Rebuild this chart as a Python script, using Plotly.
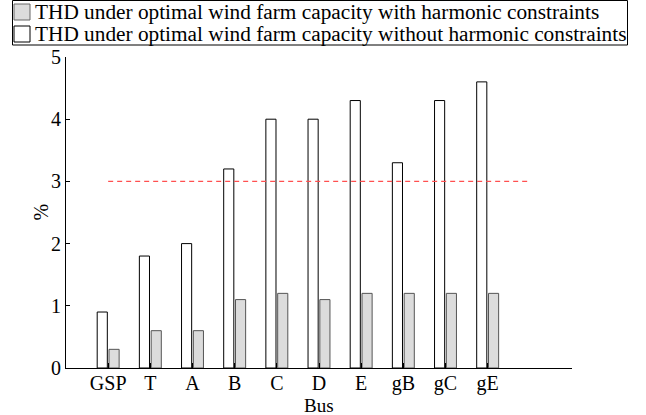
import plotly.graph_objects as go

# ---- data ----
buses = ["GSP", "T", "A", "B", "C", "D", "E", "gB", "gC", "gE"]
thd_without = [0.9, 1.8, 2.0, 3.2, 4.0, 4.0, 4.3, 3.3, 4.3, 4.6]
thd_with = [0.3, 0.6, 0.6, 1.1, 1.2, 1.1, 1.2, 1.2, 1.2, 1.2]
thd_limit = 3
label_with = "THD under optimal wind farm capacity with harmonic constraints"
label_without = "THD under optimal wind farm capacity without harmonic constraints"
y_ticks = [0, 1, 2, 3, 4, 5]
x_title = "Bus"
y_title = "%"

FONT = "Liberation Serif"
W, H = 646, 415
ML, MR, MT, MB = 66, 74, 57, 47
PW, PH = W - ML - MR, H - MT - MB
GRAY = "#dcdcdc"


def px_x(px):
    return (px - ML) / PW


def px_y(py):
    return (H - MB - py) / PH


fig = go.Figure()
fig.add_bar(x=buses, y=thd_without, name=label_without, width=0.24, offset=-0.26,
            marker=dict(color="white", line=dict(color="black", width=1)),
            showlegend=False)
fig.add_bar(x=buses, y=thd_with, name=label_with, width=0.24, offset=0.02,
            marker=dict(color=GRAY, line=dict(color="#555555", width=1)),
            showlegend=False)

# threshold line
fig.add_shape(type="line", xref="x", yref="y", x0=0, x1=len(buses), y0=thd_limit, y1=thd_limit,
              line=dict(color="#ff5050", width=1.4, dash="5px,4px"), layer="above")

# custom legend box
shapes = [
    dict(type="rect", xref="paper", yref="paper", x0=px_x(12.5), x1=px_x(627.5),
         y0=px_y(45), y1=px_y(0.5), line=dict(color="black", width=1), fillcolor="white", layer="above"),
    dict(type="rect", xref="paper", yref="paper", x0=px_x(14), x1=px_x(30),
         y0=px_y(20), y1=px_y(4), line=dict(color="#666666", width=1), fillcolor=GRAY, layer="above"),
    dict(type="rect", xref="paper", yref="paper", x0=px_x(14), x1=px_x(30),
         y0=px_y(42), y1=px_y(26), line=dict(color="black", width=1), fillcolor="white", layer="above"),
]
for s in shapes:
    fig.add_shape(**s)

for lbl, yc in [(label_with, 12), (label_without, 34)]:
    fig.add_annotation(xref="paper", yref="paper", x=px_x(33), y=px_y(yc), text=lbl,
                       showarrow=False, xanchor="left", yanchor="middle",
                       font=dict(family=FONT, size=21.3, color="black"))

# axis titles as annotations for precise placement
fig.add_annotation(xref="paper", yref="paper", x=0.5, y=px_y(405), text=x_title,
                   showarrow=False, xanchor="center", yanchor="middle",
                   font=dict(family=FONT, size=19, color="black"))
fig.add_annotation(xref="paper", yref="paper", x=px_x(40), y=0.5, text=y_title,
                   showarrow=False, xanchor="center", yanchor="middle", textangle=-90,
                   font=dict(family=FONT, size=20, color="black"))

fig.update_layout(
    width=W, height=H,
    margin=dict(l=ML, r=MR, t=MT, b=MB, pad=0),
    paper_bgcolor="white", plot_bgcolor="white",
    barmode="overlay",
    showlegend=False,
    font=dict(family=FONT, size=20, color="black"),
    xaxis=dict(type="category", categoryorder="array", categoryarray=buses,
               range=[-1, len(buses) + 1], showgrid=False, zeroline=False,
               showline=True, linecolor="black", linewidth=1,
               ticks="inside", ticklen=5, tickcolor="black",
               tickfont=dict(family=FONT, size=20), ticklabelstandoff=-3,
               automargin=False),
    yaxis=dict(range=[0, 5], tickvals=y_ticks, showgrid=False, zeroline=False,
               showline=True, linecolor="black", linewidth=1,
               ticks="inside", ticklen=4, tickcolor="black",
               tickfont=dict(family=FONT, size=20),
               automargin=False),
)

fig.write_html("out.html")
